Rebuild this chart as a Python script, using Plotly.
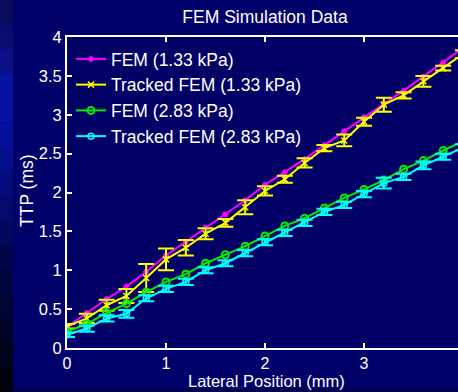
import plotly.graph_objects as go

# ---- data ----
x_pos = [0.0, 0.2, 0.4, 0.6, 0.8, 1.0, 1.2, 1.4, 1.6, 1.8, 2.0,
         2.2, 2.4, 2.6, 2.8, 3.0, 3.2, 3.4, 3.6, 3.8, 4.0]
fem_133 = [0.27, 0.45, 0.63, 0.79, 0.98, 1.19, 1.37, 1.55, 1.72, 1.90, 2.10,
           2.26, 2.43, 2.61, 2.79, 2.97, 3.14, 3.31, 3.49, 3.67, 3.86]
trk_133 = [0.28, 0.38, 0.55, 0.67, 0.90, 1.14, 1.29, 1.47, 1.61, 1.81, 2.02,
           2.17, 2.38, 2.57, 2.67, 2.91, 3.13, 3.25, 3.43, 3.60, 3.78]
trk_133_err = [0.03, 0.06, 0.07, 0.09, 0.18, 0.14, 0.10, 0.07, 0.05, 0.09, 0.06,
               0.045, 0.06, 0.04, 0.075, 0.05, 0.09, 0.04, 0.07, 0.03, 0.05]
fem_283 = [0.21, 0.31, 0.45, 0.57, 0.72, 0.85, 0.95, 1.09, 1.20, 1.31, 1.44,
           1.57, 1.67, 1.80, 1.93, 2.04, 2.16, 2.30, 2.41, 2.54, 2.66]
trk_283 = [0.17, 0.25, 0.38, 0.44, 0.64, 0.76, 0.85, 1.00, 1.09, 1.22, 1.36,
           1.48, 1.61, 1.75, 1.84, 1.98, 2.12, 2.20, 2.35, 2.46, 2.58]
trk_283_err = [0.03, 0.04, 0.04, 0.05, 0.04, 0.04, 0.04, 0.04, 0.04, 0.04, 0.04,
               0.04, 0.04, 0.04, 0.04, 0.04, 0.07, 0.04, 0.05, 0.04, 0.04]
names = ["FEM (1.33 kPa)", "Tracked FEM (1.33 kPa)", "FEM (2.83 kPa)", "Tracked FEM (2.83 kPa)"]
y_ticks = [0, 0.5, 1, 1.5, 2, 2.5, 3, 3.5, 4]
y_ticktext = ["0", "0.5", "1", "1.5", "2", "2.5", "3", "3.5", "4"]
x_ticks = [0, 1, 2, 3]

W, H = 458, 392
ML, MT, MB = 67, 37, 44
PW, PH = W - ML, H - MT - MB
FONT = "Liberation Sans, Arial, sans-serif"

fig = go.Figure()
fig.add_trace(go.Scatter(x=x_pos, y=fem_133, name=names[0], mode="lines+markers",
                         line=dict(color="#ff00ff", width=2),
                         marker=dict(symbol="asterisk-open", size=5, color="#ff00ff",
                                     line=dict(color="#ff00ff", width=1.5))))
fig.add_trace(go.Scatter(x=x_pos, y=trk_133, name=names[1], mode="lines+markers",
                         line=dict(color="#ffff00", width=2),
                         marker=dict(symbol="x-thin-open", size=6, color="#ffff00",
                                     line=dict(color="#ffff00", width=1.5)),
                         error_y=dict(type="data", array=trk_133_err, color="#ffff00",
                                      thickness=2, width=8)))
fig.add_trace(go.Scatter(x=x_pos, y=fem_283, name=names[2], mode="lines+markers",
                         line=dict(color="#00ee00", width=2),
                         marker=dict(symbol="circle-open", size=7, color="#00ee00",
                                     line=dict(color="#00ee00", width=2))))
fig.add_trace(go.Scatter(x=x_pos, y=trk_283, name=names[3], mode="lines+markers",
                         line=dict(color="#00ffff", width=2),
                         marker=dict(symbol="circle-open", size=6, color="#00ffff",
                                     line=dict(color="#00ffff", width=1.5)),
                         error_y=dict(type="data", array=trk_283_err, color="#00ffff",
                                      thickness=2, width=8)))

# background left gradient strip
grad = ["#0a0a5a", "#0a0c70", "#0a1088", "#0812a0", "#0612a2", "#05109a",
        "#040e8c", "#030c7c", "#020a6c", "#02085c", "#01064c", "#01053e",
        "#000430", "#000324", "#000218", "#00010e"]
shapes = []
n = len(grad)
for i, c in enumerate(grad):
    y0 = 1 + MT / PH - (i / n) * (H / PH)
    y1 = 1 + MT / PH - ((i + 1) / n) * (H / PH)
    shapes.append(dict(type="rect", xref="paper", yref="paper",
                       x0=-ML / PW, x1=(13 - ML) / PW, y0=y1, y1=y0,
                       fillcolor=c, line=dict(width=0), layer="below"))
shapes.append(dict(type="rect", xref="paper", yref="paper",
                   x0=(13 - ML) / PW, x1=1, y0=-MB / PH, y1=-(MB - 3) / PH,
                   fillcolor="#00004a", line=dict(width=0), layer="below"))

fig.update_layout(
    width=W, height=H,
    margin=dict(l=ML, r=0, t=MT, b=MB, pad=0),
    paper_bgcolor="#00006a", plot_bgcolor="#000066",
    font=dict(family=FONT, color="white", size=17),
    title=dict(text="FEM Simulation Data", x=265 / W, xanchor="center",
               y=1 - 17 / H, yanchor="middle", yref="container",
               font=dict(size=17.5, color="white", family=FONT)),
    showlegend=True,
    legend=dict(x=4 / PW, y=1 - 4 / PH, xanchor="left", yanchor="top",
                bgcolor="rgba(0,0,0,0)", borderwidth=0,
                font=dict(size=17.5, color="white", family=FONT),
                tracegroupgap=0, itemwidth=30),
    shapes=shapes,
    annotations=[
        dict(text="Lateral Position (mm)", xref="paper", yref="paper",
             x=(266 - ML) / PW, y=(348 - 381) / PH, xanchor="center", yanchor="middle",
             showarrow=False, font=dict(size=16.5, color="white", family=FONT)),
        dict(text="TTP (ms)", xref="paper", yref="paper", textangle=-90,
             x=(27 - ML) / PW, y=(348 - 191) / PH, xanchor="center", yanchor="middle",
             showarrow=False, font=dict(size=17.5, color="white", family=FONT)),
    ],
)
fig.update_xaxes(range=[0, PW / 99.0], tickvals=x_ticks, ticks="inside", ticklen=5,
                 tickwidth=1.5, tickcolor="white", showline=True, linecolor="white",
                 linewidth=2, mirror="ticks", showgrid=False, zeroline=False,
                 tickfont=dict(size=16, color="white", family=FONT))
fig.update_yaxes(range=[0, 4], tickvals=y_ticks, ticktext=y_ticktext, ticks="inside",
                 ticklen=5, tickwidth=1.5, tickcolor="white", showline=True,
                 linecolor="white", linewidth=2, mirror=False, showgrid=False,
                 zeroline=False, tickfont=dict(size=16.5, color="white", family=FONT))

fig.write_html("out.html")
